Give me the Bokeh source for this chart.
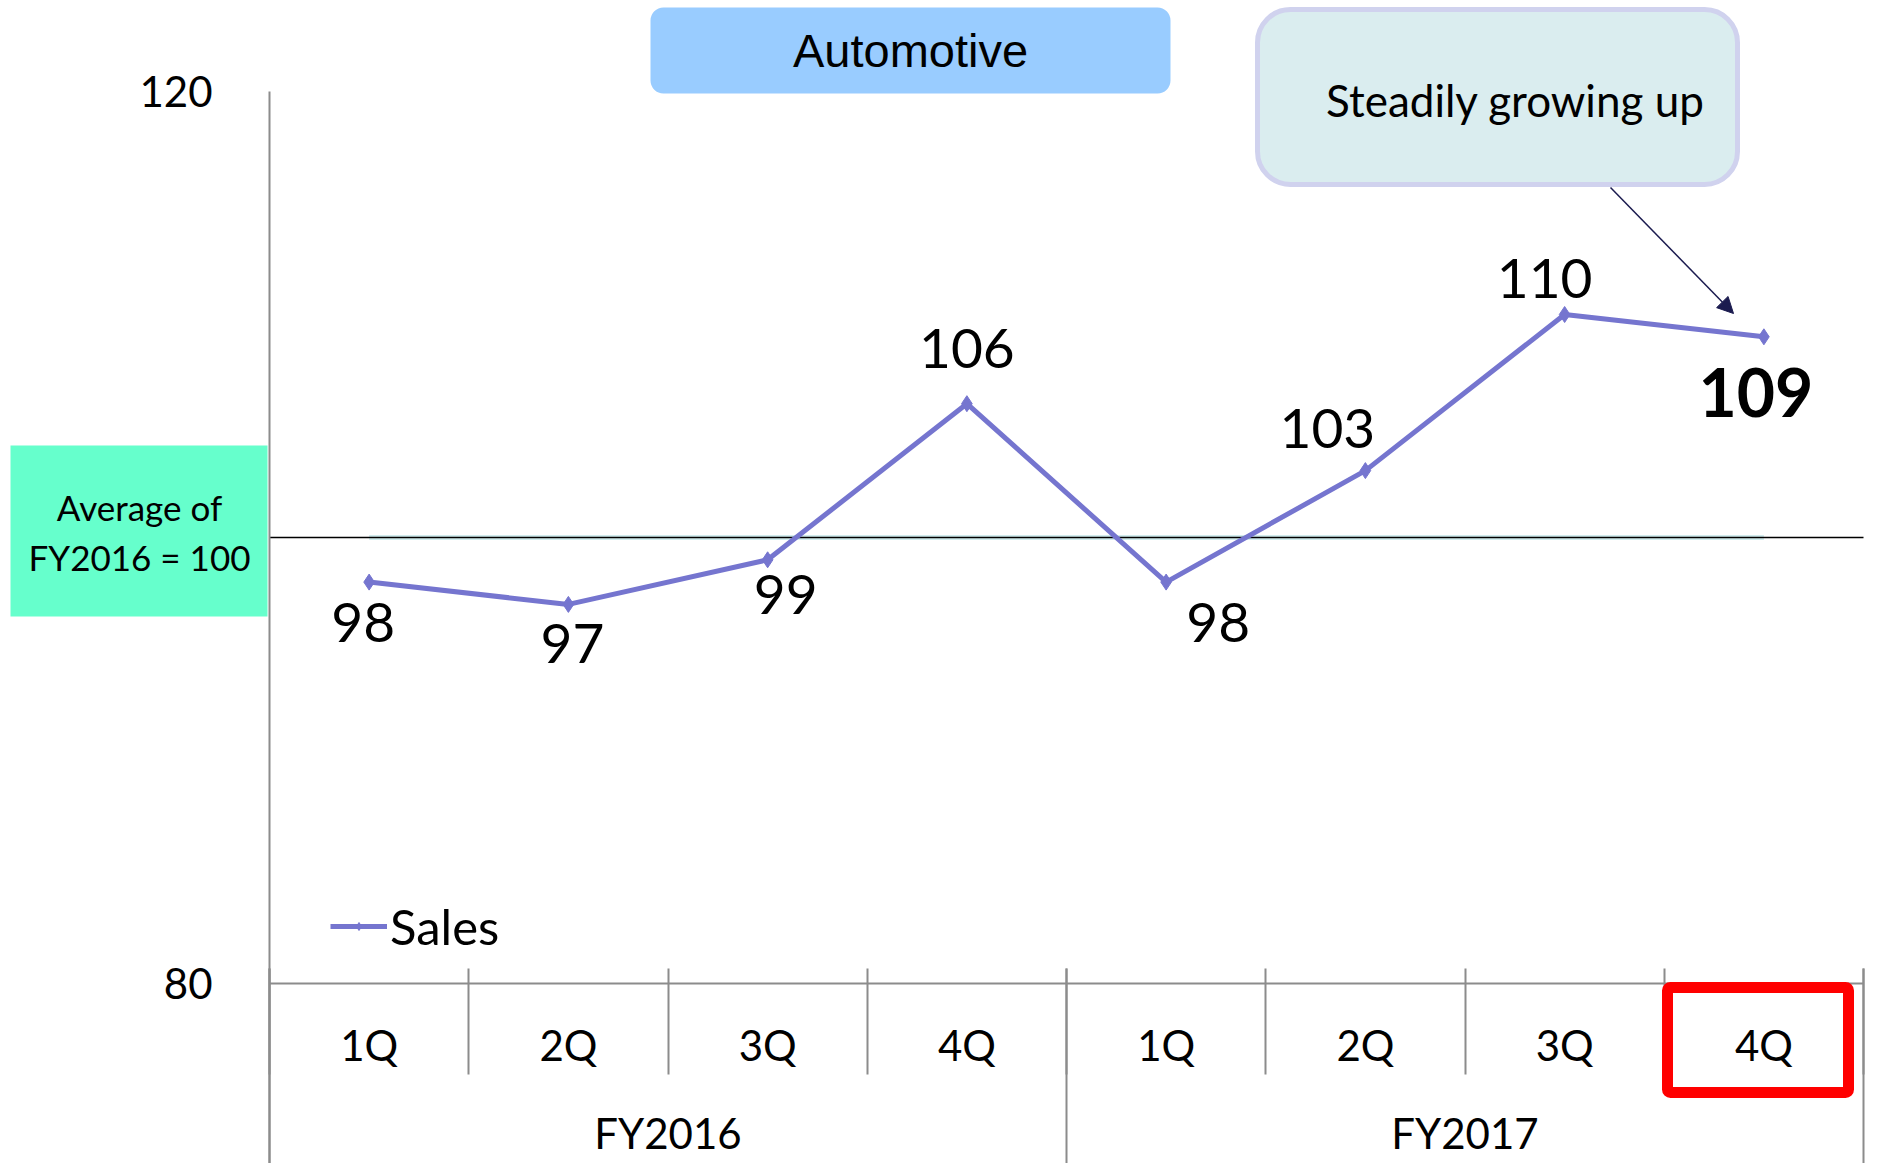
import numpy as np
from bokeh.plotting import figure
from bokeh.models import (Range1d, LinearAxis, FixedTicker, BoxAnnotation, Label,
                          Arrow, NormalHead, Legend, LegendItem, ColumnDataSource)
from bokeh.embed import file_html
from bokeh.resources import INLINE
from bokeh.core.properties import value

# ---------------- data ----------------
quarters = ["1Q", "2Q", "3Q", "4Q", "1Q", "2Q", "3Q", "4Q"]
years = ["FY2016", "FY2016", "FY2016", "FY2016", "FY2017", "FY2017", "FY2017", "FY2017"]
sales = [98, 97, 99, 106, 98, 103, 110, 109]
average = [100, 100, 100, 100, 100, 100, 100, 100]
y_ticks = [80, 120]
y_min, y_max = 80, 120

# ---------------- styles (label placement, px) ----------------
lab_dx = [-6, 4, 18, 0, 52, -38, -20, -8]
lab_dy = [40, 39, 35, -55, 40, -42, -36, 56]
lab_size = ["55px"] * 7 + ["66px"]
lab_style = ["normal"] * 7 + ["bold"]

FONT = "Lato"
LINE_C = "#7575CF"
GRID_C = "#8C8C8C"

# ---------------- geometry ----------------
W, H = 1881, 1163
n = len(quarters)
PX_LEFT, PX_RIGHT = 269, 1863
PY_TOP, PY_BOT = 91, 983
ppx = (PX_RIGHT - PX_LEFT) / n
ppy = (PY_BOT - PY_TOP) / (y_max - y_min)
x_start = 0 - PX_LEFT / ppx
x_end = n + (W - PX_RIGHT) / ppx
y_end = y_max + PY_TOP / ppy
y_start = y_min - (H - PY_BOT) / ppy


def X(px):
    return x_start + px / ppx


def Y(py):
    return y_end - py / ppy


xc = np.arange(n) + 0.5
bounds_x = list(range(n + 1))
year_names = list(dict.fromkeys(years))
year_centers = [float(np.mean([xc[i] for i in range(n) if years[i] == yn])) for yn in year_names]

p = figure(width=W, height=H, x_range=Range1d(x_start, x_end), y_range=Range1d(y_start, y_end),
           x_axis_type=None, y_axis_type=None, toolbar_location=None, output_backend="svg",
           min_border=0, title=None)
p.min_border_left = p.min_border_right = p.min_border_top = p.min_border_bottom = 0
p.outline_line_color = None
p.background_fill_color = "white"

# ---------------- axes ----------------
yax = LinearAxis(fixed_location=0, ticker=FixedTicker(ticks=y_ticks), bounds=(y_start, y_max),
                 axis_line_color=GRID_C, axis_line_width=2, major_tick_in=0, major_tick_out=0,
                 major_tick_line_color=None, minor_tick_line_color=None,
                 major_label_text_font=FONT, major_label_text_font_size="42px",
                 major_label_text_color="black", major_label_standoff=57)
p.add_layout(yax, "left")

sep_short = LinearAxis(fixed_location=y_min, ticker=FixedTicker(ticks=bounds_x), bounds=(0, n),
                       axis_line_color=GRID_C, axis_line_width=2, major_tick_in=15, major_tick_out=91,
                       major_tick_line_color=GRID_C, major_tick_line_width=2,
                       minor_tick_line_color=None, major_label_text_color=None)
p.add_layout(sep_short, "below")

sep_long = LinearAxis(fixed_location=y_min, ticker=FixedTicker(ticks=[0, n // 2, n]), bounds=(0, n),
                      axis_line_color=None, major_tick_in=15, major_tick_out=200,
                      major_tick_line_color=GRID_C, major_tick_line_width=2,
                      minor_tick_line_color=None, major_label_text_color=None)
p.add_layout(sep_long, "below")

qax = LinearAxis(fixed_location=y_min, ticker=FixedTicker(ticks=list(xc)),
                 major_label_overrides={float(x): q for x, q in zip(xc, quarters)},
                 axis_line_color=None, major_tick_line_color=None, major_tick_in=0, major_tick_out=0,
                 minor_tick_line_color=None, major_label_text_font=FONT,
                 major_label_text_font_size="42px", major_label_text_color="black",
                 major_label_standoff=36)
p.add_layout(qax, "below")

fyax = LinearAxis(fixed_location=y_min, ticker=FixedTicker(ticks=year_centers),
                  major_label_overrides={c: yn for c, yn in zip(year_centers, year_names)},
                  axis_line_color=None, major_tick_line_color=None, major_tick_in=0, major_tick_out=0,
                  minor_tick_line_color=None, major_label_text_font=FONT,
                  major_label_text_font_size="42px", major_label_text_color="black",
                  major_label_standoff=124)
p.add_layout(fyax, "below")

# ---------------- data glyphs ----------------
src = ColumnDataSource(dict(x=xc, sales=sales, avg=average, lbl=[str(v) for v in sales],
                            dx=lab_dx, dy=lab_dy, fs=lab_size, fst=lab_style))

p.line("x", "avg", source=src, line_color="#D2ECEE", line_width=5)
p.segment(x0=[bounds_x[0]], y0=[average[0]], x1=[bounds_x[-1]], y1=[average[0]],
          line_color="black", line_width=1.6)

r_line = p.line("x", "sales", source=src, line_color=LINE_C, line_width=5)
r_pts = p.scatter("x", "sales", source=src, marker="diamond", size=16,
                  fill_color=LINE_C, line_color=LINE_C)

p.text("x", "sales", text="lbl", source=src, x_offset="dx", y_offset="dy",
       text_align="center", text_baseline="middle", text_font=value(FONT),
       text_font_size="fs", text_font_style="fst", text_color="black")

legend = Legend(items=[LegendItem(label="Sales", renderers=[r_line, r_pts])],
                location=(330, 208), orientation="vertical",
                background_fill_alpha=0, border_line_color=None,
                label_text_font=FONT, label_text_font_size="49px", label_text_color="black",
                glyph_width=57, glyph_height=20, label_standoff=3, padding=0, margin=0,
                spacing=0, label_height=50)
p.add_layout(legend)

# ---------------- annotations ----------------
p.add_layout(BoxAnnotation(left=X(10), right=X(267), top=Y(445), bottom=Y(616),
                           fill_color="#66FFCC", fill_alpha=1, line_color=None))
p.add_layout(Label(x=X(139), y=Y(506), text="Average of", text_align="center",
                   text_baseline="middle", text_font=FONT, text_font_size="35px", text_color="black"))
p.add_layout(Label(x=X(139), y=Y(556), text="FY2016 = 100", text_align="center",
                   text_baseline="middle", text_font=FONT, text_font_size="35px", text_color="black"))

p.add_layout(BoxAnnotation(left=X(650), right=X(1170), top=Y(7), bottom=Y(93),
                           fill_color="#99CCFF", fill_alpha=1, line_color=None, border_radius=13))
p.add_layout(Label(x=X(910), y=Y(50), text="Automotive", text_align="center",
                   text_baseline="middle", text_font="Liberation Sans", text_font_size="47px",
                   text_color="black"))

p.add_layout(BoxAnnotation(left=X(1257), right=X(1737), top=Y(9), bottom=Y(184),
                           fill_color="#DAEDEF", fill_alpha=1, line_color="#D0D2EE", line_alpha=1,
                           line_width=5, border_radius=33))
p.add_layout(Label(x=X(1515), y=Y(99), text="Steadily growing up", text_align="center",
                   text_baseline="middle", text_font=FONT, text_font_size="44px",
                   text_color="black"))
p.add_layout(Arrow(end=NormalHead(size=16, fill_color="#1B1B4F", line_color="#1B1B4F"),
                   x_start=X(1610), y_start=Y(187), x_end=X(1733), y_end=Y(313),
                   line_color="#1B1B4F", line_width=1.5))

p.add_layout(BoxAnnotation(left=X(1667), right=X(1848), top=Y(987), bottom=Y(1092),
                           fill_color=None, fill_alpha=0, line_color="red", line_alpha=1,
                           line_width=11, border_radius=3))

open("out.html", "w").write(file_html(p, INLINE))
